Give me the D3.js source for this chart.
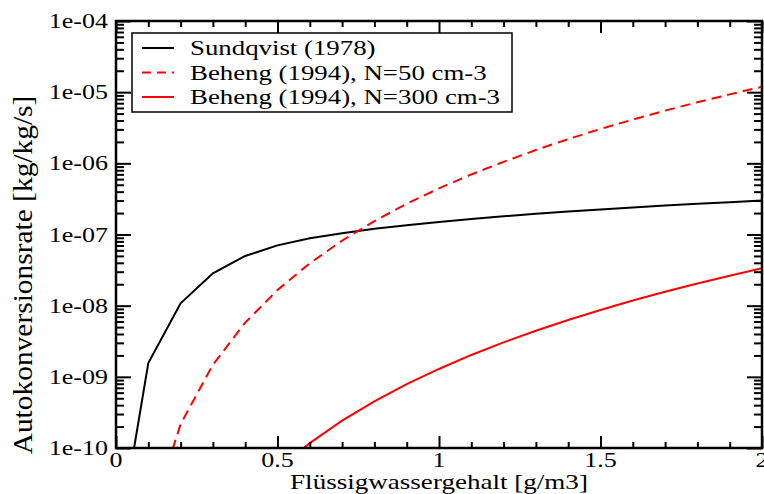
<!DOCTYPE html>
<html><head><meta charset="utf-8">
<script src="https://cdn.jsdelivr.net/npm/d3@7/dist/d3.min.js"></script>
<style>body{margin:0;background:#fff}svg{display:block}
svg text{font-family:"Liberation Serif","DejaVu Serif","Noto Serif","Times New Roman",Times,serif}</style>
</head><body><svg id="c" width="764" height="494"></svg>
<script>
// ---- data ----
const sundX = [0.05,0.1,0.2,0.3,0.4,0.5,0.6,0.7,0.8,0.9,1.0,1.1,1.2,1.3,1.4,1.5,1.6,1.7,1.8,1.9,2.0];
const sundY = [6.9e-11,1.56e-9,1.08e-8,2.85e-8,4.99e-8,7.03e-8,8.84e-8,1.045e-7,1.2e-7,1.35e-7,1.5e-7,1.65e-7,1.8e-7,1.95e-7,2.1e-7,2.25e-7,2.4e-7,2.55e-7,2.7e-7,2.85e-7,3.0e-7];
const beh50X = [0.1,0.2,0.3,0.4,0.5,0.6,0.7,0.8,0.9,1.0,1.1,1.2,1.3,1.4,1.5,1.6,1.7,1.8,1.9,2.0];
const beh50Y = [8.1e-12,2.16e-10,1.48e-9,5.77e-9,1.66e-8,3.94e-8,8.2e-8,1.54e-7,2.7e-7,4.45e-7,6.98e-7,1.05e-6,1.54e-6,2.19e-6,3.04e-6,4.12e-6,5.5e-6,7.21e-6,9.31e-6,1.19e-5];
const beh300X = [0.5,0.6,0.7,0.8,0.9,1.0,1.1,1.2,1.3,1.4,1.5,1.6,1.7,1.8,1.9,2.0];
const beh300Y = [4.98e-11,1.17e-10,2.42e-10,4.53e-10,7.89e-10,1.29e-9,2.03e-9,3.05e-9,4.45e-9,6.3e-9,8.7e-9,1.18e-8,1.57e-8,2.05e-8,2.64e-8,3.36e-8];
const xTickVals = [0,0.5,1,1.5,2];
const xTickLabels = ["0","0.5","1","1.5","2"];
const yTickVals = [1e-10,1e-9,1e-8,1e-7,1e-6,1e-5,1e-4];
const yTickLabels = ["1e-10","1e-09","1e-08","1e-07","1e-06","1e-05","1e-04"];
const legendLabels = ["Sundqvist (1978)","Beheng (1994), N=50 cm-3","Beheng (1994), N=300 cm-3"];
const xTitle = "Flüssigwassergehalt [g/m3]";
const yTitle = "Autokonversionsrate [kg/kg/s]";

// ---- layout ----
const L=116, R=762, T=21, B=448;
const svg = d3.select("#c");
const x = d3.scaleLinear().domain([0,2]).range([L,R]);
const y = d3.scaleLog().domain([1e-10,1e-4]).range([B,T]);

svg.append("defs").append("clipPath").attr("id","clip")
  .append("rect").attr("x",L).attr("y",T).attr("width",R-L).attr("height",B-T);

const series = [
  {X:sundX, Y:sundY, color:"#000", dash:null},
  {X:beh50X, Y:beh50Y, color:"#ff0000", dash:"10,6"},
  {X:beh300X, Y:beh300Y, color:"#ff0000", dash:null}
];
const line = d3.line().x(d=>x(d[0])).y(d=>y(d[1]));
const g = svg.append("g").attr("clip-path","url(#clip)");
series.forEach(s=>{
  g.append("path").datum(s.X.map((v,i)=>[v,s.Y[i]]))
    .attr("d",line).attr("fill","none").attr("stroke",s.color)
    .attr("stroke-width",2).attr("stroke-dasharray",s.dash);
});

// ---- ticks (inward, all four sides) ----
const xMinor = d3.range(0,21).map(i=>i/10).filter(v=>!xTickVals.some(t=>Math.abs(t-v)<1e-9));
const yMinor = y.ticks().filter(v=>!yTickVals.some(t=>Math.abs(Math.log10(v)-Math.log10(t))<1e-6));
function styleAxis(sel){ sel.select(".domain").remove(); sel.selectAll("line").attr("stroke","#000").attr("stroke-width",2); sel.selectAll("text").remove(); }
[[xTickVals,12],[xMinor,6]].forEach(([vals,len])=>{
  svg.append("g").attr("transform",`translate(0,${B})`).call(d3.axisBottom(x).tickValues(vals).tickSize(-len).tickFormat("")).call(styleAxis);
  svg.append("g").attr("transform",`translate(0,${T})`).call(d3.axisTop(x).tickValues(vals).tickSize(-len).tickFormat("")).call(styleAxis);
});
[[yTickVals,15],[yMinor,8]].forEach(([vals,len])=>{
  svg.append("g").attr("transform",`translate(${L},0)`).call(d3.axisLeft(y).tickValues(vals).tickSize(-len).tickFormat("")).call(styleAxis);
  svg.append("g").attr("transform",`translate(${R},0)`).call(d3.axisRight(y).tickValues(vals).tickSize(-len).tickFormat("")).call(styleAxis);
});
svg.append("rect").attr("x",L).attr("y",T).attr("width",R-L).attr("height",B-T)
  .attr("fill","none").attr("stroke","#000").attr("stroke-width",2.5);

// ---- stretched text helper ----
function stext(px,py,str,size,sx,anchor){
  svg.append("text").attr("transform",`translate(${px},${py}) scale(${sx},1)`)
    .style("font-size",size+"px").attr("text-anchor",anchor).text(str);
}
xTickVals.forEach((v,i)=>stext(x(v),467,xTickLabels[i],20,1.3,"middle"));
yTickVals.forEach((v,i)=>stext(108,y(v)+7,yTickLabels[i],20,1.3,"end"));
stext((L+R)/2,489,xTitle,22,1.23,"middle");
svg.append("text").attr("transform","translate(32,275) rotate(-90) scale(1.09,1)")
  .style("font-size","27px").attr("text-anchor","middle").text(yTitle);

// ---- legend ----
const lg = svg.append("g");
lg.append("rect").attr("x",132).attr("y",33).attr("width",380).attr("height",79)
  .attr("fill","#fff").attr("stroke","#000").attr("stroke-width",1.5);
legendLabels.forEach((lab,i)=>{
  const ly = 48 + i*24.5;
  lg.append("line").attr("x1",142).attr("x2",174).attr("y1",ly).attr("y2",ly)
    .attr("stroke",series[i].color).attr("stroke-width",2).attr("stroke-dasharray",series[i].dash ? "9,6" : null);
  lg.append("text").attr("transform",`translate(190,${ly+7}) scale(1.22,1)`)
    .style("font-size","22px").text(lab);
});
</script></body></html>
